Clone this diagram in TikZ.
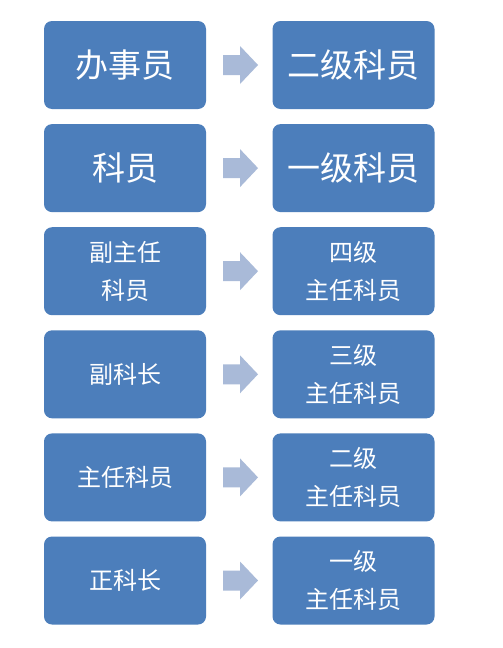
\documentclass[tikz,border=0pt]{standalone}
\usepackage{fontspec}
\newfontfamily\cjk{Noto Sans CJK SC}
\definecolor{boxblue}{HTML}{4C7EBB}
\definecolor{arrowblue}{HTML}{A9BAD8}
\begin{document}
\begin{tikzpicture}[x=1pt,y=-1pt,
  box/.style={fill=boxblue, rounded corners=8pt, minimum width=162pt, minimum height=88pt, inner sep=0pt, text=white, align=center, font=\cjk\fontsize{24}{38}\selectfont},
  bigtext/.style={font=\cjk\fontsize{33}{38}\selectfont}]
\useasboundingbox (0,0) rectangle (503,648);
\fill[white] (0,0) rectangle (503,648);
\foreach \i/\l/\r/\big in {0/办事员/二级科员/1, 1/科员/一级科员/1, 2/副主任\\科员/四级\\主任科员/0, 3/副科长/三级\\主任科员/0, 4/主任科员/二级\\主任科员/0, 5/正科长/一级\\主任科员/0}{
  \pgfmathsetmacro{\yc}{65+103.1*\i}
  \ifnum\big=1
    \node[box,bigtext] (L\i) at (125,\yc) {\l};
    \node[box,bigtext] (R\i) at (353.5,\yc) {\r};
  \else
    \node[box] (L\i) at (125,\yc) {\l};
    \node[box] (R\i) at (353.5,\yc) {\r};
  \fi
  \coordinate (A\i) at (223,\yc);
  \fill[arrowblue] (A\i) ++(0,-10) -- ++(17,0) -- ++(0,-9) -- ++(18,19) -- ++(-18,19) -- ++(0,-9) -- ++(-17,0) -- cycle;
}
\end{tikzpicture}
\end{document}
